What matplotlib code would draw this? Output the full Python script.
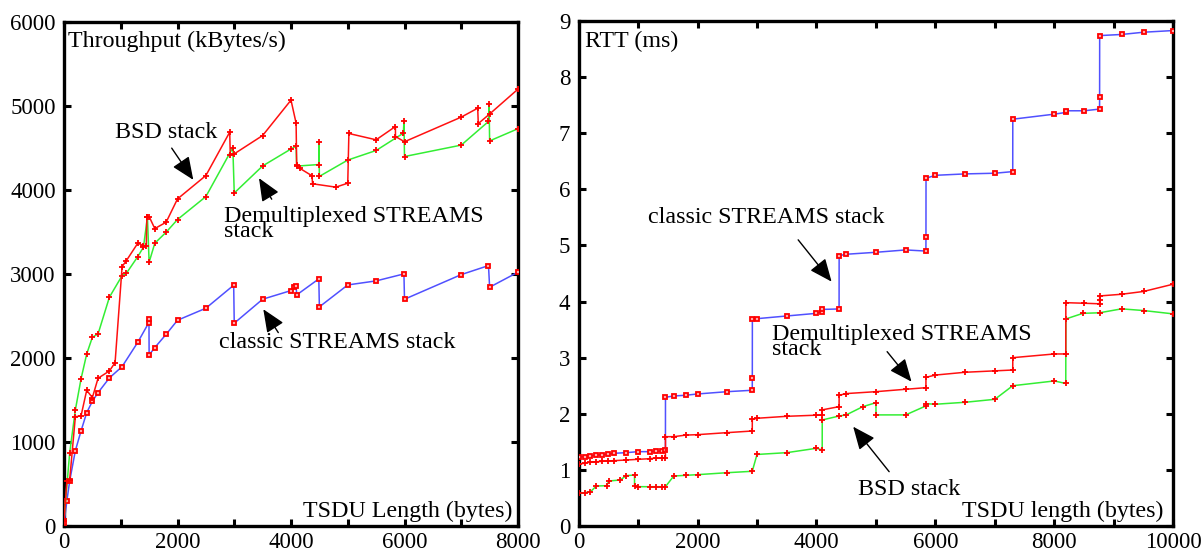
import matplotlib
matplotlib.use("Agg")
import matplotlib.pyplot as plt
from matplotlib.ticker import MultipleLocator

plt.rcParams['font.family'] = ['Liberation Serif', 'DejaVu Serif']
plt.rcParams['font.size'] = 17.3

# ---------------- Left chart: Throughput (kBytes/s) ----------------
thr_classic_x = [1, 50, 100, 200, 300, 400, 500, 600, 800, 1024, 1300, 1496, 1497, 1500,
                 1600, 1800, 2000, 2500, 2990, 3000, 3500, 4000, 4060, 4090, 4100, 4490,
                 4500, 5000, 5500, 5990, 6000, 7000, 7480, 7500, 8000]
thr_classic_y = [30, 297, 535, 896, 1130, 1348, 1483, 1586, 1761, 1896, 2185, 2420, 2463, 2034,
                 2122, 2280, 2447, 2590, 2864, 2412, 2697, 2800, 2840, 2855, 2748, 2939,
                 2606, 2867, 2915, 2998, 2697, 2990, 3097, 2840, 3019]

thr_bsd_x = [1, 50, 100, 200, 300, 400, 500, 600, 800, 900, 1024, 1100, 1300, 1400, 1450,
             1460, 1500, 1600, 1800, 2000, 2500, 2920, 2930, 3000, 3500, 4000, 4090, 4100,
             4150, 4370, 4380, 4790, 5000, 5020, 5500, 5840, 5841, 6000, 7000, 7290, 7300,
             7500, 8000]
thr_bsd_y = [60, 535, 550, 1300, 1309, 1614, 1527, 1757, 1844, 1943, 3085, 3157, 3363, 3335, 3330,
             3680, 3680, 3537, 3613, 3890, 4168, 4684, 4414, 4426, 4644, 5065, 4791, 4295,
             4256, 4165, 4070, 4030, 4077, 4668, 4593, 4751, 4632, 4570, 4863, 4969, 4786,
             4900, 5196]

thr_demux_x = [1, 100, 200, 300, 400, 500, 600, 800, 1024, 1100, 1300, 1400, 1470, 1500,
               1600, 1800, 2000, 2500, 2975, 3000, 3500, 4000, 4090, 4100, 4490, 4491, 4500,
               5000, 5500, 5980, 5990, 6000, 7000, 7480, 7490, 7500, 8000]
thr_demux_y = [80, 870, 1380, 1749, 2046, 2245, 2284, 2721, 2978, 3006, 3204, 3316, 3673, 3137,
               3363, 3494, 3645, 3918, 4500, 3960, 4282, 4484, 4518, 4280, 4299, 4563, 4158,
               4352, 4466, 4672, 4811, 4394, 4530, 4811, 5024, 4580, 4725]

# ---------------- Right chart: RTT (ms) ----------------
rtt_classic_x = [1, 100, 200, 300, 400, 500, 600, 800, 1000, 1200, 1300, 1400, 1460, 1461,
                 1600, 1800, 2000, 2500, 2920, 2921, 2922, 3000, 3500, 4000, 4096, 4097, 4380,
                 4381, 4500, 5000, 5500, 5840, 5841, 5842, 6000, 6500, 7000, 7300, 7301, 8000,
                 8192, 8193, 8500, 8760, 8761, 8762, 9130, 9500, 10000]
rtt_classic_y = [1.235, 1.235, 1.25, 1.266, 1.27, 1.283, 1.296, 1.307, 1.325, 1.325, 1.331, 1.337,
                 1.355, 2.294, 2.317, 2.33, 2.353, 2.394, 2.419, 2.633, 3.684, 3.695, 3.743, 3.79,
                 3.82, 3.86, 3.868, 4.818, 4.843, 4.878, 4.92, 4.90, 5.146, 6.198, 6.25, 6.275,
                 6.287, 6.316, 7.25, 7.34, 7.37, 7.40, 7.40, 7.43, 7.64, 8.74, 8.76, 8.80, 8.83]

rtt_demux_x = [1, 100, 200, 300, 400, 500, 600, 800, 1000, 1200, 1300, 1400, 1460, 1461,
               1600, 1800, 2000, 2500, 2920, 2921, 3000, 3500, 4000, 4096, 4097, 4380, 4381,
               4500, 5000, 5500, 5840, 5841, 6000, 6500, 7000, 7300, 7301, 8000, 8192, 8193,
               8500, 8760, 8761, 8762, 9130, 9500, 10000]
rtt_demux_y = [1.105, 1.117, 1.14, 1.145, 1.153, 1.159, 1.165, 1.176, 1.188, 1.2, 1.21, 1.21,
               1.215, 1.592, 1.592, 1.62, 1.628, 1.664, 1.693, 1.90, 1.92, 1.955, 1.975, 1.975,
               2.07, 2.127, 2.33, 2.36, 2.394, 2.437, 2.465, 2.65, 2.69, 2.74, 2.765, 2.78,
               3.0, 3.066, 3.066, 3.98, 3.97, 3.96, 4.03, 4.10, 4.13, 4.18, 4.31]

rtt_bsd_x = [1, 100, 200, 300, 470, 510, 700, 800, 940, 941, 1000, 1200, 1300, 1400, 1460,
             1600, 1800, 2000, 2500, 2920, 3000, 3500, 4000, 4096, 4097, 4380, 4500, 4780,
             5000, 5001, 5500, 5840, 5841, 6000, 6500, 7000, 7300, 8000, 8192, 8193, 8480,
             8760, 9130, 9500, 10000]
rtt_bsd_y = [0.583, 0.594, 0.611, 0.713, 0.718, 0.802, 0.82, 0.897, 0.909, 0.713, 0.701, 0.70,
             0.70, 0.70, 0.70, 0.891, 0.903, 0.915, 0.95, 0.975, 1.275, 1.307, 1.385, 1.355,
             1.89, 1.96, 1.98, 2.127, 2.198, 1.98, 1.98, 2.14, 2.18, 2.17, 2.205, 2.258,
             2.50, 2.585, 2.54, 3.69, 3.79, 3.80, 3.87, 3.84, 3.78]

RED = '#ff1010'
GREEN = '#33ee33'
BLUE = '#5050ff'
MK = 'red'

fig = plt.figure(figsize=(12.02, 5.54), dpi=100)
axL = fig.add_axes([64 / 1202, 28 / 554, 454 / 1202, 504.5 / 554])
axR = fig.add_axes([578.6 / 1202, 28 / 554, 594.7 / 1202, 505 / 554])


def style_axes(ax):
    for s in ax.spines.values():
        s.set_linewidth(2.4)
        s.set_color('black')
    ax.tick_params(which='both', direction='in', top=True, right=True,
                   length=5, width=2.2, labelsize=16.5, pad=6)
    ax.tick_params(axis='x', pad=4)


def plus_line(ax, x, y, color, z):
    ax.plot(x, y, '-', color=color, lw=1.1, zorder=z,
            marker='+', ms=5, mew=1.3, mec=MK, mfc=MK)


def square_line(ax, x, y, color, z):
    ax.plot(x, y, '-', color=color, lw=1.1, zorder=z,
            marker='s', ms=3.4, mew=1.3, mec=MK, mfc='#ffaaaa')


arrow_kw = dict(arrowstyle='-|>,head_length=0.7,head_width=0.3', color='black',
                lw=1.0, shrinkA=0, shrinkB=0, mutation_scale=20)

# Left
square_line(axL, thr_classic_x, thr_classic_y, BLUE, 3)
plus_line(axL, thr_demux_x, thr_demux_y, GREEN, 4)
plus_line(axL, thr_bsd_x, thr_bsd_y, RED, 5)
axL.set_xlim(0, 8000)
axL.set_ylim(0, 6000)
axL.xaxis.set_major_locator(MultipleLocator(2000))
axL.xaxis.set_minor_locator(MultipleLocator(1000))
axL.yaxis.set_major_locator(MultipleLocator(1000))
style_axes(axL)
axL.text(0.009, 0.950, 'Throughput (kBytes/s)', transform=axL.transAxes, ha='left', va='baseline')
axL.text(0.987, 0.018, 'TSDU Length (bytes)', transform=axL.transAxes, ha='right', va='baseline')
axL.text(899, 4616, 'BSD stack', ha='left', va='baseline')
axL.annotate('', xy=(2278, 4117), xytext=(1898, 4494), arrowprops=arrow_kw)
axL.text(2825, 3442, 'Demultiplexed STREAMS\nstack', ha='left', va='baseline',
         linespacing=0.62)
axL.annotate('', xy=(3436, 4137), xytext=(3660, 3887), arrowprops=arrow_kw)
axL.text(2737, 2114, 'classic STREAMS stack', ha='left', va='baseline')
axL.annotate('', xy=(3512, 2578), xytext=(3776, 2300), arrowprops=arrow_kw)

# Right
square_line(axR, rtt_classic_x, rtt_classic_y, BLUE, 3)
plus_line(axR, rtt_bsd_x, rtt_bsd_y, GREEN, 4)
plus_line(axR, rtt_demux_x, rtt_demux_y, RED, 5)
axR.set_xlim(0, 10000)
axR.set_ylim(0, 9)
axR.xaxis.set_major_locator(MultipleLocator(2000))
axR.xaxis.set_minor_locator(MultipleLocator(1000))
axR.yaxis.set_major_locator(MultipleLocator(1))
style_axes(axR)
axR.text(0.010, 0.949, 'RTT (ms)', transform=axR.transAxes, ha='left', va='baseline')
axR.text(0.983, 0.018, 'TSDU length (bytes)', transform=axR.transAxes, ha='right', va='baseline')
axR.text(1166, 5.40, 'classic STREAMS stack', ha='left', va='baseline')
axR.annotate('', xy=(4254, 4.355), xytext=(3692, 5.10), arrowprops=arrow_kw)
axR.text(3245, 3.048, 'Demultiplexed STREAMS\nstack', ha='left', va='baseline',
         linespacing=0.62)
axR.annotate('', xy=(5598, 2.572), xytext=(5188, 3.107), arrowprops=arrow_kw)
axR.text(4701, 0.553, 'BSD stack', ha='left', va='baseline')
axR.annotate('', xy=(4617, 1.77), xytext=(5222, 0.968), arrowprops=arrow_kw)

fig.savefig('out.png', dpi=100)
